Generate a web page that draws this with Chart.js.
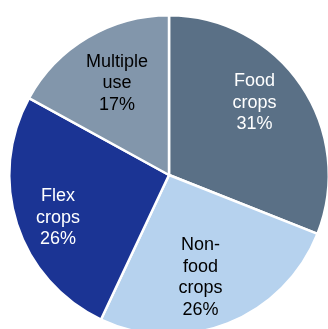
<!DOCTYPE html>
<html lang="en">
<head>
  <meta charset="UTF-8" />
  <title>Crop use shares</title>
  <script src="https://cdn.jsdelivr.net/npm/chart.js"></script>
  <style>
    html, body {
      margin: 0;
      padding: 0;
      background: #fff;
      overflow: hidden;
      width: 328px;
      height: 329px;
    }
    /* pie is larger than the window, it is cut on the right and at the bottom */
    .pie-box {
      position: absolute;
      left: -1px;
      top: 5px;
      width: 340px;
      height: 340px;
    }
  </style>
</head>
<body>
  <div class="pie-box">
    <canvas id="pieChart"></canvas>
  </div>
  <script>
    // Data
    const categories = ['Food\ncrops', 'Non-\nfood\ncrops', 'Flex\ncrops', 'Multiple\nuse'];
    const shares = [31, 26, 26, 17];
    const sliceColors = ['#5a7086', '#b6d2ee', '#1b3494', '#8296ab'];
    const labelColors = ['#ffffff', '#000000', '#ffffff', '#000000'];

    // Label placement: fraction of radius and angle nudge (degrees) per slice
    const labelRadius = [0.70, 0.67, 0.745, 0.66];
    const labelNudge = [-6, 4.5, -3, 1];

    const sliceLabels = {
      id: 'sliceLabels',
      afterDatasetsDraw(chart) {
        const ctx = chart.ctx;
        const arcs = chart.getDatasetMeta(0).data;
        ctx.save();
        ctx.font = '18px "Liberation Sans", Arial, sans-serif';
        ctx.textAlign = 'center';
        ctx.textBaseline = 'middle';
        arcs.forEach((arc, i) => {
          const p = arc.getProps(['x', 'y', 'startAngle', 'endAngle', 'outerRadius'], true);
          const mid = (p.startAngle + p.endAngle) / 2 + labelNudge[i] * Math.PI / 180;
          const r = p.outerRadius * labelRadius[i];
          const cx = p.x + Math.cos(mid) * r;
          const cy = p.y + Math.sin(mid) * r;
          const lines = categories[i].split('\n').concat(shares[i] + '%');
          const lh = 21.5;
          const y0 = cy - (lines.length - 1) * lh / 2;
          ctx.fillStyle = labelColors[i];
          lines.forEach((t, k) => ctx.fillText(t, cx, y0 + k * lh));
        });
        ctx.restore();
      }
    };

    new Chart(document.getElementById('pieChart').getContext('2d'), {
      type: 'pie',
      data: {
        labels: categories,
        datasets: [{
          data: shares,
          backgroundColor: sliceColors,
          borderColor: '#ffffff',
          borderWidth: 2.5
        }]
      },
      options: {
        responsive: true,
        maintainAspectRatio: true,
        aspectRatio: 1,
        animation: false,
        layout: { padding: 9 },
        plugins: {
          legend: { display: false },
          tooltip: { enabled: false }
        }
      },
      plugins: [sliceLabels]
    });
  </script>
</body>
</html>
